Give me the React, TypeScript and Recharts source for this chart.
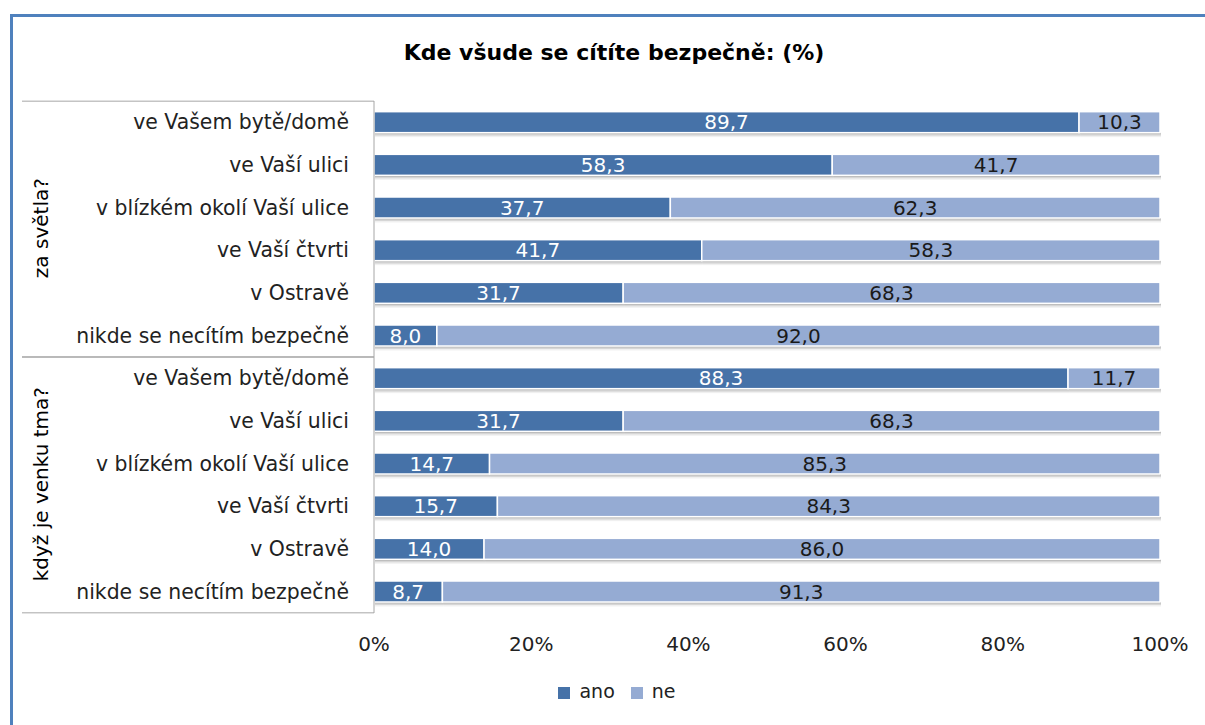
import React from "react";
import { BarChart, Bar, XAxis, YAxis, Legend, LabelList } from "recharts";

const groups = ["za světla?", "když je venku tma?"];
const places = [
  "ve Vašem bytě/domě",
  "ve Vaší ulici",
  "v blízkém okolí Vaší ulice",
  "ve Vaší čtvrti",
  "v Ostravě",
  "nikde se necítím bezpečně"
];
const anoDay = [89.7, 58.3, 37.7, 41.7, 31.7, 8.0];
const neDay = [10.3, 41.7, 62.3, 58.3, 68.3, 92.0];
const anoNight = [88.3, 31.7, 14.7, 15.7, 14.0, 8.7];
const neNight = [11.7, 68.3, 85.3, 84.3, 86.0, 91.3];
const xTicks = [0, 20, 40, 60, 80, 100];

const W = 1205;
const H = 725;
const MARGIN = { top: 101, right: 45, bottom: 40, left: 0 };
const PLOT_TOP = 101;
const PLOT_BOTTOM = 609;
const AXIS_W = 374;
const FONT = "'DejaVu Sans', sans-serif";
const ANO = "#4672a8";
const NE = "#95abd3";

const rows = [
  ...places.map((p, i) => ({ key: `d${i}`, place: p, ano: anoDay[i], ne: neDay[i] })),
  ...places.map((p, i) => ({ key: `n${i}`, place: p, ano: anoNight[i], ne: neNight[i] }))
];

const fmt = (v: any) => Number(v).toFixed(1).replace(".", ",");

const YTick = (props: any) => {
  const { x, y, payload } = props;
  const i = payload.index;
  const band = (PLOT_BOTTOM - PLOT_TOP) / rows.length;
  const n = places.length;
  const lineStyle = { stroke: "#a6a6a6", strokeWidth: 1 };
  const gy = y - band / 2 + (n * band) / 2;
  return (
    <g>
      <text x={x - 17} y={y} textAnchor="end" dominantBaseline="central" fontSize={20.4} fill="#222" fontFamily={FONT}>
        {rows[i].place}
      </text>
      {i % n === 0 && <line x1={22} x2={AXIS_W} y1={y - band / 2} y2={y - band / 2} {...lineStyle} />}
      {i % n === n - 1 && <line x1={22} x2={AXIS_W} y1={y + band / 2} y2={y + band / 2} {...lineStyle} />}
      {i % n === 0 && (
        <text
          x={41}
          y={gy}
          transform={`rotate(-90, 41, ${gy})`}
          textAnchor="middle"
          dominantBaseline="central"
          fontSize={20}
          fill="#000"
          fontFamily={FONT}
        >
          {groups[Math.floor(i / n)]}
        </text>
      )}
    </g>
  );
};

// bar segment with a soft shadow underneath
const ShadowBar = (p: any) => {
  const { x, y, width, height, fill } = p;
  if (!width || !height) return null;
  return (
    <g>
      <rect x={x + 1} y={y + height} width={width} height={1.5} fill="#000" opacity={0.3} />
      <rect x={x + 1} y={y + height + 1.5} width={width} height={1.5} fill="#000" opacity={0.16} />
      <rect x={x + 1} y={y + height + 3} width={width} height={1.5} fill="#000" opacity={0.06} />
      <rect x={x} y={y} width={width} height={height} fill={fill} stroke="#fff" strokeWidth={1.5} />
    </g>
  );
};

export default function App() {
  return (
    <div style={{ position: "absolute", left: 0, top: 0, width: W, height: H, overflow: "hidden", background: "#fff" }}>
      <div
        style={{
          position: "absolute",
          left: 10,
          top: 14,
          width: W + 50,
          height: H + 50,
          border: "3px solid #4f81bd"
        }}
      />
      <div
        style={{
          position: "absolute",
          top: 40,
          left: 0,
          width: 1228,
          textAlign: "center",
          fontFamily: FONT,
          fontWeight: 700,
          fontSize: 22,
          color: "#000"
        }}
      >
        Kde všude se cítíte bezpečně: (%)
      </div>
      <div style={{ position: "absolute", left: 0, top: 0 }}>
        <BarChart
          width={W}
          height={H}
          data={rows}
          layout="vertical"
          margin={MARGIN}
          barCategoryGap="25%"
        >
          <XAxis
            type="number"
            domain={[0, 100]}
            ticks={xTicks}
            tickFormatter={(v) => `${v}%`}
            axisLine={false}
            tickLine={false}
            tickMargin={18}
            height={50}
            tick={{ fontSize: 20, fill: "#222", fontFamily: FONT }}
          />
          <YAxis
            type="category"
            dataKey="key"
            width={AXIS_W}
            interval={0}
            tickLine={false}
            axisLine={{ stroke: "#a6a6a6" }}
            tick={<YTick />}
          />
          <Legend
            iconType="square"
            iconSize={12}
            wrapperStyle={{ top: 680, bottom: "auto", left: 0, width: 1250, fontFamily: FONT, fontSize: 19, color: "#222" }}
            formatter={(v) => <span style={{ color: "#222", paddingLeft: 5, paddingRight: 6 }}>{v}</span>}
          />
          <Bar dataKey="ano" name="ano" stackId="s" fill={ANO} shape={(p: any) => <ShadowBar {...p} />} isAnimationActive={false}>
            <LabelList dataKey="ano" position="center" formatter={fmt} fill="#fff" fontSize={20} fontFamily={FONT} />
          </Bar>
          <Bar dataKey="ne" name="ne" stackId="s" fill={NE} shape={(p: any) => <ShadowBar {...p} />} isAnimationActive={false}>
            <LabelList dataKey="ne" position="center" formatter={fmt} fill="#1a1a1a" fontSize={20} fontFamily={FONT} />
          </Bar>
        </BarChart>
      </div>
    </div>
  );
}
